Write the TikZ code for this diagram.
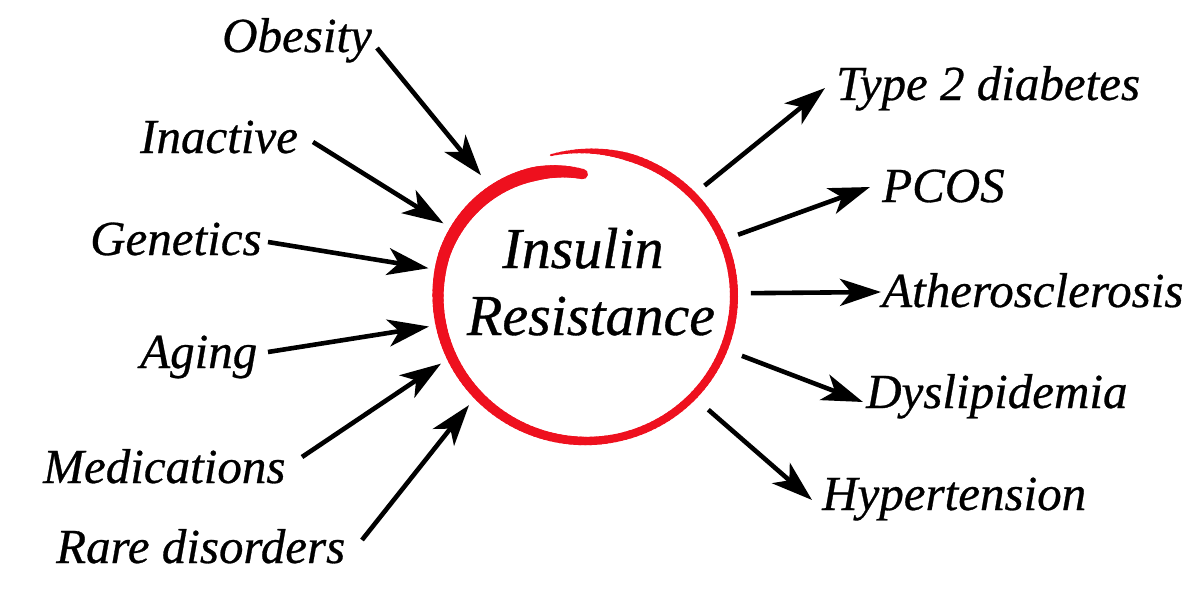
\documentclass[tikz,border=0pt]{standalone}
\usepackage{fontspec}
\setmainfont{Liberation Serif}[ItalicFeatures={FakeBold=0.6}]
\usetikzlibrary{arrows.meta}
\definecolor{brushred}{RGB}{238,16,30}
\begin{document}
\begin{tikzpicture}[x=1pt,y=-1pt,
  lbl/.style={inner sep=0pt, anchor=base west, font=\fontsize{49}{58}\selectfont\itshape},
  ctr/.style={inner sep=0pt, anchor=base, font=\fontsize{58}{68}\selectfont\itshape},
  arr/.style={line width=4.6pt, -{Stealth[length=41pt,width=27pt,inset=11pt]}},
]
\fill[white] (0,0) rectangle (1200,600);
\useasboundingbox (0,0) rectangle (1200,600);

% brush-stroke ring
\begin{scope}[shift={(586,296)}, yscale=-1]
\foreach \t in {0,2,...,370} {
  \pgfmathsetmacro\ta{104-\t}
  \pgfmathsetmacro\tb{104-\t-2.5}
  \pgfmathsetmacro\ua{max(0,\t-300)}
  \pgfmathsetmacro\ub{max(0,\t+2.5-300)}
  \pgfmathsetmacro\ra{145+3*cos(\ta)^2-(0.1*\ua+0.003*\ua*\ua)}
  \pgfmathsetmacro\rb{145+3*cos(\tb)^2-(0.1*\ub+0.003*\ub*\ub)}
  \pgfmathsetmacro\w{ifthenelse(\t<30, 2+\t*6/30, ifthenelse(\t<180, 8, ifthenelse(\t<280, 8+(\t-180)*3/100, ifthenelse(\t<350, 11+(\t-280)*3/70, 14-(\t-350)*4/22))))}
  \draw[brushred, line width=\w pt, line cap=round] (\ta:\ra) -- (\tb:\rb);
}
\end{scope}
\node[circle, minimum size=320pt, inner sep=0pt, outer sep=0pt] (ring) at (586,296) {};

% centre text
\node[ctr] (insulin) at (583,268) {Insulin};
\node[ctr] (resist) at (591,335) {Resistance};

% causes
\node[lbl] (obesity) at (222,52) {Obesity};
\node[lbl] (inactive) at (140,153) {Inactive};
\node[lbl] (genetics) at (90,255) {Genetics};
\node[lbl] (aging) at (140,368) {Aging};
\node[lbl] (medic) at (43,483) {Medications};
\node[lbl] (rare) at (56,563) {Rare disorders};

% consequences
\node[lbl] (type2) at (836,100) {Type 2 diabetes};
\node[lbl] (pcos) at (882,202) {PCOS};
\node[lbl] (athero) at (882,307) {Atherosclerosis};
\node[lbl] (dysl) at (866,408) {Dyslipidemia};
\node[lbl] (hyper) at (822,510) {Hypertension};

% arrow free ends
\coordinate (obeT) at (377,48);
\coordinate (inaT) at (313,142);
\coordinate (genT) at (268,242);
\coordinate (agiT) at (268,352);
\coordinate (medT) at (302,457);
\coordinate (rarT) at (362,540);
\coordinate (t2T) at (825,88);
\coordinate (pcoT) at (870,187);
\coordinate (athT) at (881,292);
\coordinate (dysT) at (863,402);
\coordinate (hypT) at (812,500);

\draw[arr] (obeT) -- (ring.131.9);
\draw[arr] (inaT) -- (ring.153.4);
\draw[arr] (genT) -- (ring.170.7);
\draw[arr] (agiT) -- (ring.191.4);
\draw[arr] (medT) -- (ring.205.8);
\draw[arr] (rarT) -- (ring.223.7);

\draw[arr, shorten <=2pt] (ring.43.7) -- (t2T);
\draw[arr, shorten <=4pt] (ring.22.6) -- (pcoT);
\draw[arr, shorten <=5pt] (ring.1.4) -- (athT);
\draw[arr, shorten <=7pt] (ring.-21.4) -- (dysT);
\draw[arr, shorten <=7pt] (ring.-43.1) -- (hypT);
\end{tikzpicture}
\end{document}
